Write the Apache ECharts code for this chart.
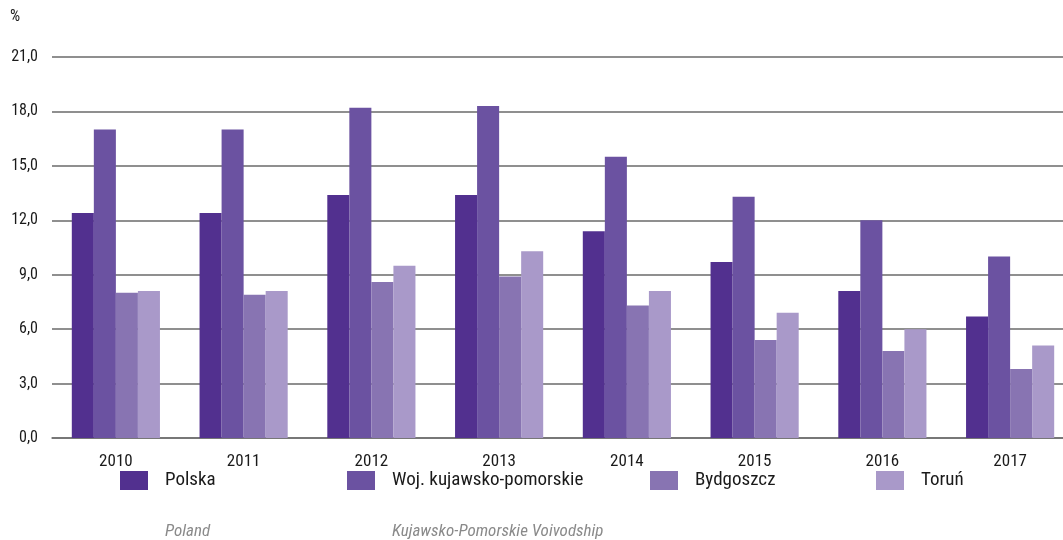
<!DOCTYPE html>
<html>
<head>
<meta charset="utf-8">
<script src="https://cdn.jsdelivr.net/npm/echarts@6/dist/echarts.min.js"></script>
<style>
html,body{margin:0;padding:0;background:#fff;}
#c{width:1063px;height:540px;}
</style>
</head>
<body>
<div id="c"></div>
<script>
const years = ['2010','2011','2012','2013','2014','2015','2016','2017'];
const polska = [12.4,12.4,13.4,13.4,11.4,9.7,8.1,6.7];
const woj = [17.0,17.0,18.2,18.3,15.5,13.3,12.0,10.0];
const bydgoszcz = [8.0,7.9,8.6,8.9,7.3,5.4,4.8,3.8];
const torun = [8.1,8.1,9.5,10.3,8.1,6.9,6.0,5.1];
const seriesNames = ['Polska','Woj. kujawsko-pomorskie','Bydgoszcz','Toruń'];
const subNames = ['Poland','Kujawsko-Pomorskie Voivodship','',''];
const colors = ['#52308f','#6b52a1','#8874b2','#a999c9'];

const FONT = "'Roboto Condensed','Liberation Sans Narrow',sans-serif";
const chart = echarts.init(document.getElementById('c'));
const legendLeft = [120, 347, 650, 876];
const values = [polska, woj, bydgoszcz, torun];

chart.setOption({
  animation: false,
  textStyle: {fontFamily: FONT},
  grid: {left: 52, width: 1022, top: 57, bottom: 102, containLabel: false, outerBoundsMode: 'none'},
  legend: seriesNames.map((n, i) => ({
    data: [n],
    left: legendLeft[i],
    top: 471,
    padding: 0,
    itemWidth: 28,
    itemHeight: 19,
    itemGap: 0,
    icon: 'rect',
    selectedMode: false,
    textStyle: {fontFamily: FONT, fontSize: 19, color: '#1a1a1a', padding: [2,0,0,12]}
  })),
  graphic: subNames.map((t, i) => ({
    type: 'text',
    left: legendLeft[i] + 45,
    top: 523,
    style: {text: t, fontFamily: FONT, fontSize: 17, fontStyle: 'italic', fill: '#8a8a8a'}
  })).concat([{
    type: 'text', left: 10, top: 9,
    style: {text: '%', fontFamily: FONT, fontSize: 16, fill: '#1a1a1a'}
  }]),
  xAxis: {
    type: 'category',
    data: years,
    axisLine: {show: true, lineStyle: {color: '#707070', width: 1.5}},
    axisTick: {show: false},
    axisLabel: {fontFamily: FONT, fontSize: 17, color: '#1a1a1a', margin: 15}
  },
  yAxis: {
    type: 'value',
    min: 0, max: 21, interval: 3,
    axisLine: {show: false},
    axisTick: {show: false},
    splitLine: {lineStyle: {color: '#6a6a6a', width: 1.5}},
    axisLabel: {fontFamily: FONT, fontSize: 16, color: '#1a1a1a', margin: 14,
      formatter: v => v.toFixed(1).replace('.', ',')}
  },
  series: seriesNames.map((n, i) => ({
    name: n,
    type: 'bar',
    data: values[i],
    barGap: '0%',
    barCategoryGap: '31%',
    itemStyle: {color: colors[i]}
  }))
});
</script>
</body>
</html>
